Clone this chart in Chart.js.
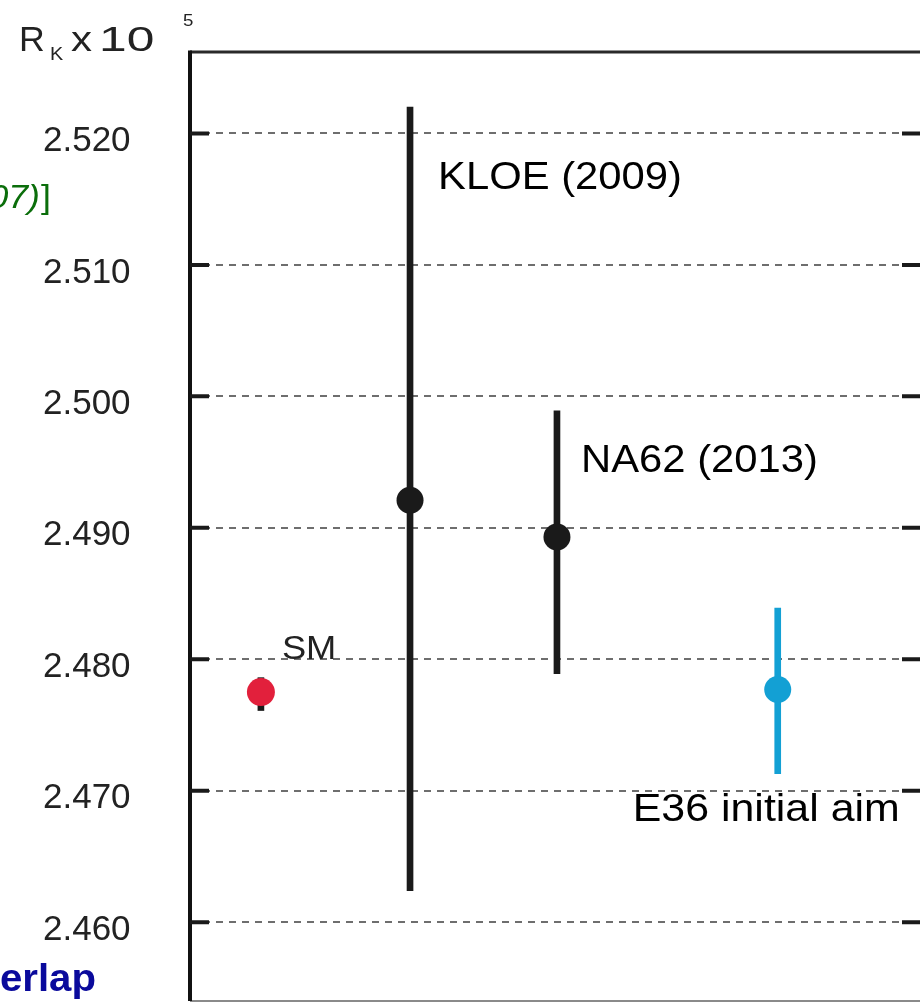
<!DOCTYPE html>
<html>
<head>
<meta charset="utf-8">
<script src="https://cdn.jsdelivr.net/npm/chart.js@4"></script>
<style>
  html, body { margin: 0; padding: 0; background: #fff; overflow: hidden; }
  #wrap { width: 940px; height: 1026px; }
</style>
</head>
<body>
<div id="wrap"><canvas id="rk" width="940" height="1026"></canvas></div>
<script>
const categories = ["SM", "KLOE (2009)", "NA62 (2013)", "E36 initial aim"];
const xPos = [0.97, 3.01, 5.02, 8.04];
const central = [2.4775, 2.4921, 2.4893, 2.4777];
const errLow = [2.4761, 2.4624, 2.4789, 2.4713];
const errHigh = [2.4786, 2.522, 2.4989, 2.4839];
const yTicks = [2.46, 2.47, 2.48, 2.49, 2.5, 2.51, 2.52];

const dotColors = ["#e2203c", "#1a1a1a", "#1a1a1a", "#13a0d4"];
const barColors = ["#1a1a1a", "#1a1a1a", "#1a1a1a", "#13a0d4"];

const FONT = "'Liberation Sans', Arial, sans-serif";

function drawText(ctx, text, x, y, font, color, sx, align) {
  ctx.save();
  ctx.translate(x, y);
  ctx.scale(sx || 1.1, 1);
  ctx.font = font;
  ctx.fillStyle = color;
  ctx.textAlign = align || "left";
  ctx.textBaseline = "alphabetic";
  ctx.fillText(text, 0, 0);
  ctx.restore();
}

// label placement relative to each point (pixels)
const labelOffsets = [[21, -33], [28, -311], [24, -65], [-145, 132]];
const labelFonts = ["33px " + FONT, "38px " + FONT, "38px " + FONT, "39px " + FONT];
const labelColors = ["#222", "#000", "#000", "#000"];

const framePlugin = {
  id: "frame",
  afterDraw(chart) {
    const { ctx, chartArea: a, scales } = chart;
    const y = scales.y;
    ctx.save();
    // bottom edge
    ctx.strokeStyle = "#8a8a8a";
    ctx.lineWidth = 2;
    ctx.beginPath();
    ctx.moveTo(a.left, a.bottom);
    ctx.lineTo(a.right, a.bottom);
    ctx.stroke();
    // top edge
    ctx.strokeStyle = "#2a2a2a";
    ctx.lineWidth = 3;
    ctx.beginPath();
    ctx.moveTo(a.left, a.top);
    ctx.lineTo(a.right, a.top);
    ctx.stroke();
    // left edge
    ctx.strokeStyle = "#111";
    ctx.lineWidth = 4;
    ctx.beginPath();
    ctx.moveTo(a.left, a.top - 1.5);
    ctx.lineTo(a.left, a.bottom);
    ctx.stroke();
    // inward tick marks
    ctx.strokeStyle = "#1a1a1a";
    ctx.lineWidth = 4;
    yTicks.forEach((v) => {
      const py = y.getPixelForValue(v);
      ctx.beginPath();
      ctx.moveTo(a.left, py);
      ctx.lineTo(a.left + 19, py);
      ctx.moveTo(a.right - 19, py);
      ctx.lineTo(a.right, py);
      ctx.stroke();
    });
    ctx.restore();

    // point labels
    const meta = chart.getDatasetMeta(1);
    categories.forEach((name, i) => {
      const pt = meta.data[i];
      drawText(ctx, name, pt.x + labelOffsets[i][0], pt.y + labelOffsets[i][1], labelFonts[i], labelColors[i], 1.1);
    });

    // axis title R_K x 10^5
    drawText(ctx, "R", 19, 51, "35px " + FONT, "#222", 1.02);
    drawText(ctx, "K", 50, 60, "18px " + FONT, "#222", 1.1);
    drawText(ctx, "x", 71, 51, "35px " + FONT, "#222", 1.2);
    drawText(ctx, "10", 99, 51, "35px " + FONT, "#222", 1.42);
    drawText(ctx, "5", 183, 26, "17px " + FONT, "#222", 1.1);

    // bits of the surrounding slide that show in the crop
    drawText(ctx, "(2007)", 40, 208, "italic 34px " + FONT, "#0b6e0b", 1.05, "right");
    drawText(ctx, "]", 41, 208, "34px " + FONT, "#0b6e0b", 1.05);
    drawText(ctx, "erlap", 96, 991, "bold 39px " + FONT, "#0a0a9c", 1.03, "right");
  },
};

new Chart(document.getElementById("rk"), {
  data: {
    datasets: [
      {
        type: "bar",
        label: "error",
        data: xPos.map((x, i) => ({ x, y: [errLow[i], errHigh[i]] })),
        backgroundColor: barColors,
        barThickness: 6,
        borderWidth: 0,
        grouped: false,
        order: 2,
      },
      {
        type: "scatter",
        label: "R_K",
        data: xPos.map((x, i) => ({ x, y: central[i] })),
        backgroundColor: dotColors,
        borderColor: dotColors,
        borderWidth: 0,
        pointRadius: [14, 13.5, 13.5, 13.5],
        order: 1,
      },
    ],
  },
  options: {
    responsive: false,
    animation: false,
    devicePixelRatio: 1,
    layout: { padding: { top: 52, right: 19, bottom: 25, left: 43 } },
    plugins: {
      legend: { display: false },
      tooltip: { enabled: false },
    },
    scales: {
      x: {
        type: "linear",
        display: false,
        offset: false,
        min: 0,
        max: 10,
      },
      y: {
        type: "linear",
        min: 2.454,
        max: 2.5262,
        afterBuildTicks: (scale) => {
          scale.ticks = yTicks.map((v) => ({ value: v }));
        },
        afterFit: (scale) => {
          scale.width = 147;
        },
        border: { display: false, dash: [7, 6] },
        grid: {
          color: "#6e6e6e",
          lineWidth: 2,
          drawTicks: false,
        },
        ticks: {
          padding: 0,
          crossAlign: "far",
          labelOffset: 8,
          color: "#222",
          font: { family: FONT, size: 35 },
          callback: (v) => v.toFixed(3),
        },
      },
    },
  },
  plugins: [framePlugin],
});
</script>
</body>
</html>
